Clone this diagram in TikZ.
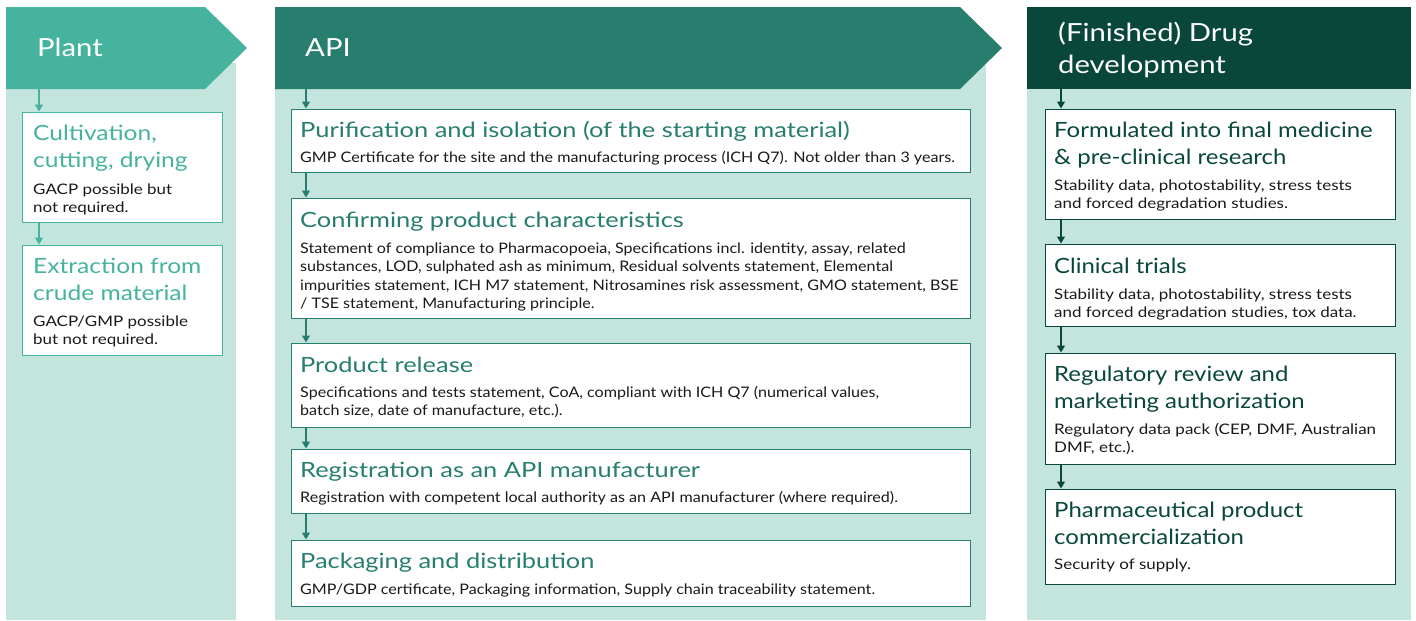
\documentclass[tikz,border=0pt]{standalone}
\usepackage{fontspec}
\setmainfont{Lato}[FakeStretch=1.17]
\newfontfamily\latoapiT{Lato}[FakeStretch=1.21]
\newfontfamily\latoapiB{Lato}[FakeStretch=1.11]
\newfontfamily\latodrugT{Lato}[FakeStretch=1.14]
\usetikzlibrary{arrows.meta}
\definecolor{plantc}{RGB}{69,179,157}
\definecolor{apic}{RGB}{39,126,110}
\definecolor{drugc}{RGB}{8,71,58}
\definecolor{lightbg}{RGB}{195,229,222}
\definecolor{bodyc}{RGB}{25,25,25}
\newcommand\ttlfont{\fontsize{21}{27}\selectfont}
\newcommand\bdyfont{\fontsize{14.5}{18.5}\selectfont}
\newcommand\hdfont{\fontsize{25}{32}\selectfont}
\newcommand\tst{\rule{0pt}{20pt}}
\newcommand\bst{\rule{0pt}{14pt}}
\newcommand\hst{\rule{0pt}{24pt}}
\tikzset{
  card/.style={draw=#1, fill=white, line width=1.3pt, anchor=north west, inner sep=0pt},
  ttl/.style={anchor=north west, inner sep=0pt, align=left, font=\ttlfont, text=#1},
  bdy/.style={anchor=north west, inner sep=0pt, align=left, font=\bdyfont, text=bodyc},
  attl/.style={ttl=apic, font=\latoapiT\ttlfont},
  abdy/.style={bdy, font=\latoapiB\bdyfont},
  dttl/.style={ttl=drugc, font=\latodrugT\ttlfont},
  hd/.style={anchor=north west, inner sep=0pt, align=left, font=\hdfont, text=white},
  flow/.style={draw=#1, line width=1.3pt, -{Triangle[length=7pt,width=8pt]}, shorten >=0.5pt},
}
\begin{document}
\begin{tikzpicture}[x=1pt,y=-1pt]
\useasboundingbox (0,0) rectangle (1416,621);
% ---------- backgrounds and headers
\fill[lightbg] (6,63) rectangle (236,620);
\fill[plantc] (6,7) -- (205,7) -- (247,48) -- (205,89) -- (6,89) -- cycle;
\fill[lightbg] (275,65) rectangle (986,620);
\fill[apic] (275,7) -- (960,7) -- (1002,48) -- (960,89) -- (275,89) -- cycle;
\fill[lightbg] (1027,89) rectangle (1411,620);
\fill[drugc] (1027,7) rectangle (1411,89);
\node[hd] (hplant) at (37,56-24) {\hst Plant};
\node[hd] (hapi) at (305,56-24) {\hst API};
\node[hd] (hdrug) at (1058,41-24) {\hst(Finished) Drug\\development};
\coordinate (cp) at (39,89);
\coordinate (ca) at (306,89);
\coordinate (cd) at (1061,89);
% ---------- Plant column
\node[card=plantc, minimum width=200pt, minimum height=110pt] (p1) at (22,112) {};
\node[card=plantc, minimum width=200pt, minimum height=110pt] (p2) at (22,245) {};
\node[ttl=plantc] (p1t) at (33,140-20) {\tst Cultivation,\\cutting, drying};
\node[bdy] (p1b) at (33,194-14) {\bst GACP possible but\\not required.};
\node[ttl=plantc] (p2t) at (33,273-20) {\tst Extraction from\\crude material};
\node[bdy] (p2b) at (33,326-14) {\bst GACP/GMP possible\\but not required.};
\draw[flow=plantc] (cp) -- (p1.north -| cp);
\draw[flow=plantc] (p1.south -| cp) -- (p2.north -| cp);
% ---------- API column
\node[card=apic, minimum width=679pt, minimum height=63pt] (a1) at (291,109) {};
\node[card=apic, minimum width=679pt, minimum height=120pt] (a2) at (291,198) {};
\node[card=apic, minimum width=679pt, minimum height=84pt] (a3) at (291,343) {};
\node[card=apic, minimum width=679pt, minimum height=64pt] (a4) at (291,449) {};
\node[card=apic, minimum width=679pt, minimum height=66pt] (a5) at (291,540) {};
\node[attl] (a1t) at (300,137-20) {\tst Purification and isolation (of the starting material)};
\node[abdy] (a1b) at (300,162-14) {\bst GMP Certificate for the site and the manufacturing process (ICH Q7). Not older than 3 years.};
\node[attl] (a2t) at (300,227-20) {\tst Confirming product characteristics};
\node[abdy] (a2b) at (300,253-14) {\bst Statement of compliance to Pharmacopoeia, Specifications incl. identity, assay, related\\substances, LOD, sulphated ash as minimum, Residual solvents statement, Elemental\\impurities statement, ICH M7 statement, Nitrosamines risk assessment, GMO statement, BSE\\/ TSE statement, Manufacturing principle.};
\node[attl] (a3t) at (300,372-20) {\tst Product release};
\node[abdy] (a3b) at (300,397-14) {\bst Specifications and tests statement, CoA, compliant with ICH Q7 (numerical values,\\batch size, date of manufacture, etc.).};
\node[attl] (a4t) at (300,477-20) {\tst Registration as an API manufacturer};
\node[abdy] (a4b) at (300,502-14) {\bst Registration with competent local authority as an API manufacturer (where required).};
\node[attl] (a5t) at (300,568-20) {\tst Packaging and distribution};
\node[abdy] (a5b) at (300,594-14) {\bst GMP/GDP certificate, Packaging information, Supply chain traceability statement.};
\draw[flow=apic] (ca) -- (a1.north -| ca);
\draw[flow=apic] (a1.south -| ca) -- (a2.north -| ca);
\draw[flow=apic] (a2.south -| ca) -- (a3.north -| ca);
\draw[flow=apic] (a3.south -| ca) -- (a4.north -| ca);
\draw[flow=apic] (a4.south -| ca) -- (a5.north -| ca);
% ---------- Drug column
\node[card=drugc, minimum width=350pt, minimum height=110pt] (d1) at (1045,109) {};
\node[card=drugc, minimum width=350pt, minimum height=82pt] (d2) at (1045,244) {};
\node[card=drugc, minimum width=350pt, minimum height=111pt] (d3) at (1045,353) {};
\node[card=drugc, minimum width=350pt, minimum height=95pt] (d4) at (1045,489) {};
\node[dttl] (d1t) at (1054,137-20) {\tst Formulated into final medicine\\\& pre-clinical research};
\node[bdy] (d1b) at (1054,190-14) {\bst Stability data, photostability, stress tests\\and forced degradation studies.};
\node[dttl] (d2t) at (1054,273-20) {\tst Clinical trials};
\node[bdy] (d2b) at (1054,299-14) {\bst Stability data, photostability, stress tests\\and forced degradation studies, tox data.};
\node[dttl] (d3t) at (1054,381-20) {\tst Regulatory review and\\marketing authorization};
\node[bdy] (d3b) at (1054,434-14) {\bst Regulatory data pack (CEP, DMF, Australian\\DMF, etc.).};
\node[dttl] (d4t) at (1054,517-20) {\tst Pharmaceutical product\\commercialization};
\node[bdy] (d4b) at (1054,569-14) {\bst Security of supply.};
\draw[flow=drugc] (cd) -- (d1.north -| cd);
\draw[flow=drugc] (d1.south -| cd) -- (d2.north -| cd);
\draw[flow=drugc] (d2.south -| cd) -- (d3.north -| cd);
\draw[flow=drugc] (d3.south -| cd) -- (d4.north -| cd);
\end{tikzpicture}
\end{document}
